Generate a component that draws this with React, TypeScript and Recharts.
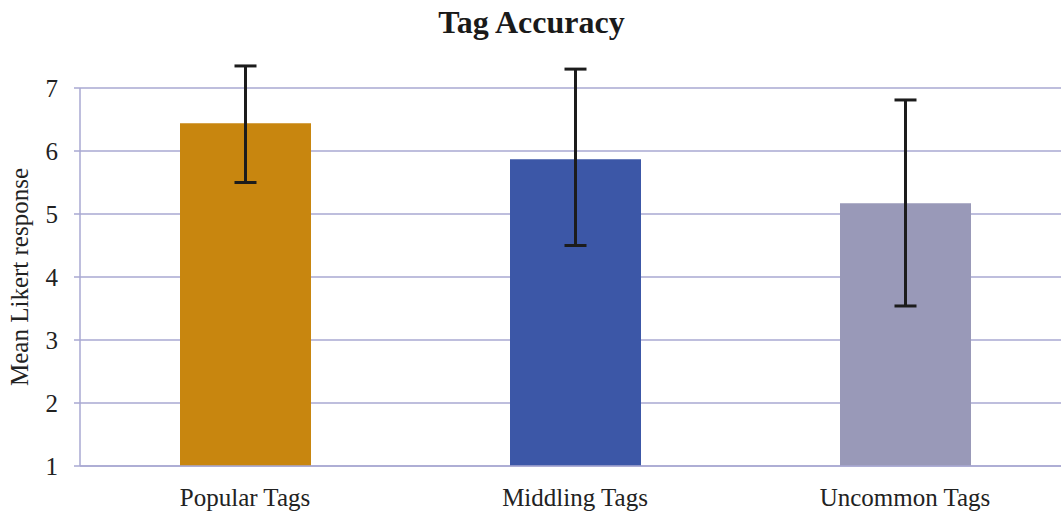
import React from 'react';
import { ComposedChart, Bar, XAxis, YAxis, CartesianGrid, ErrorBar, Cell } from 'recharts';

const categories = ['Popular Tags', 'Middling Tags', 'Uncommon Tags'];
const means = [6.44, 5.87, 5.17];
const errLow = [0.94, 1.37, 1.63];
const errHigh = [0.91, 1.43, 1.64];
const barColors = ['#C8860F', '#3C57A7', '#9999B8'];
const yTicks = [1, 2, 3, 4, 5, 6, 7];

const data = categories.map((name, i) => ({
  name,
  mean: means[i],
  err: [errLow[i], errHigh[i]],
}));

const FONT = '"Liberation Serif", "Times New Roman", serif';
const GRID = '#A8A8D2';

const YLabel = (props: any) => {
  const vb = props.viewBox || { x: 0, y: 0, width: 0, height: 0 };
  const cx = 19;
  const cy = vb.y + vb.height / 2;
  return (
    <text
      x={cx}
      y={cy}
      transform={`rotate(-90 ${cx} ${cy})`}
      textAnchor="middle"
      dominantBaseline="central"
      fontFamily={FONT}
      fontSize={25}
      fill="#222"
    >
      Mean Likert response
    </text>
  );
};

export default function App() {
  return (
    <div style={{ position: 'absolute', left: 0, top: 0, width: 1061, height: 515, overflow: 'hidden', background: '#fff' }}>
      <div
        style={{
          position: 'absolute',
          left: 0,
          width: 1063,
          top: 2,
          textAlign: 'center',
          fontFamily: FONT,
          fontWeight: 'bold',
          fontSize: 32,
          color: '#1a1a1a',
          lineHeight: '40px',
        }}
      >
        Tag Accuracy
      </div>
      <ComposedChart
        width={1080}
        height={515}
        data={data}
        margin={{ top: 88, right: 10, bottom: 0, left: 0 }}
      >
        <CartesianGrid horizontal vertical={false} stroke={GRID} strokeWidth={1.5} />
        <XAxis
          dataKey="name"
          height={49}
          tickLine={false}
          tickSize={6}
          tickMargin={16}
          axisLine={{ stroke: GRID, strokeWidth: 1.5 }}
          tick={{ fontFamily: FONT, fontSize: 25, fill: '#222' }}
          interval={0}
        />
        <YAxis
          type="number"
          domain={[1, 7]}
          allowDataOverflow
          ticks={yTicks}
          width={80}
          tickSize={6}
          tickMargin={16}
          tickLine={{ stroke: GRID, strokeWidth: 1.5 }}
          axisLine={{ stroke: GRID, strokeWidth: 1.5 }}
          tick={{ fontFamily: FONT, fontSize: 25, fill: '#222' }}
          label={{ content: YLabel }}
        />
        <Bar dataKey="mean" barSize={131} isAnimationActive={false}>
          {data.map((d, i) => (
            <Cell key={d.name} fill={barColors[i]} />
          ))}
          <ErrorBar dataKey="err" width={11} stroke="#1c1c1c" strokeWidth={3} direction="y" />
        </Bar>
      </ComposedChart>
    </div>
  );
}
